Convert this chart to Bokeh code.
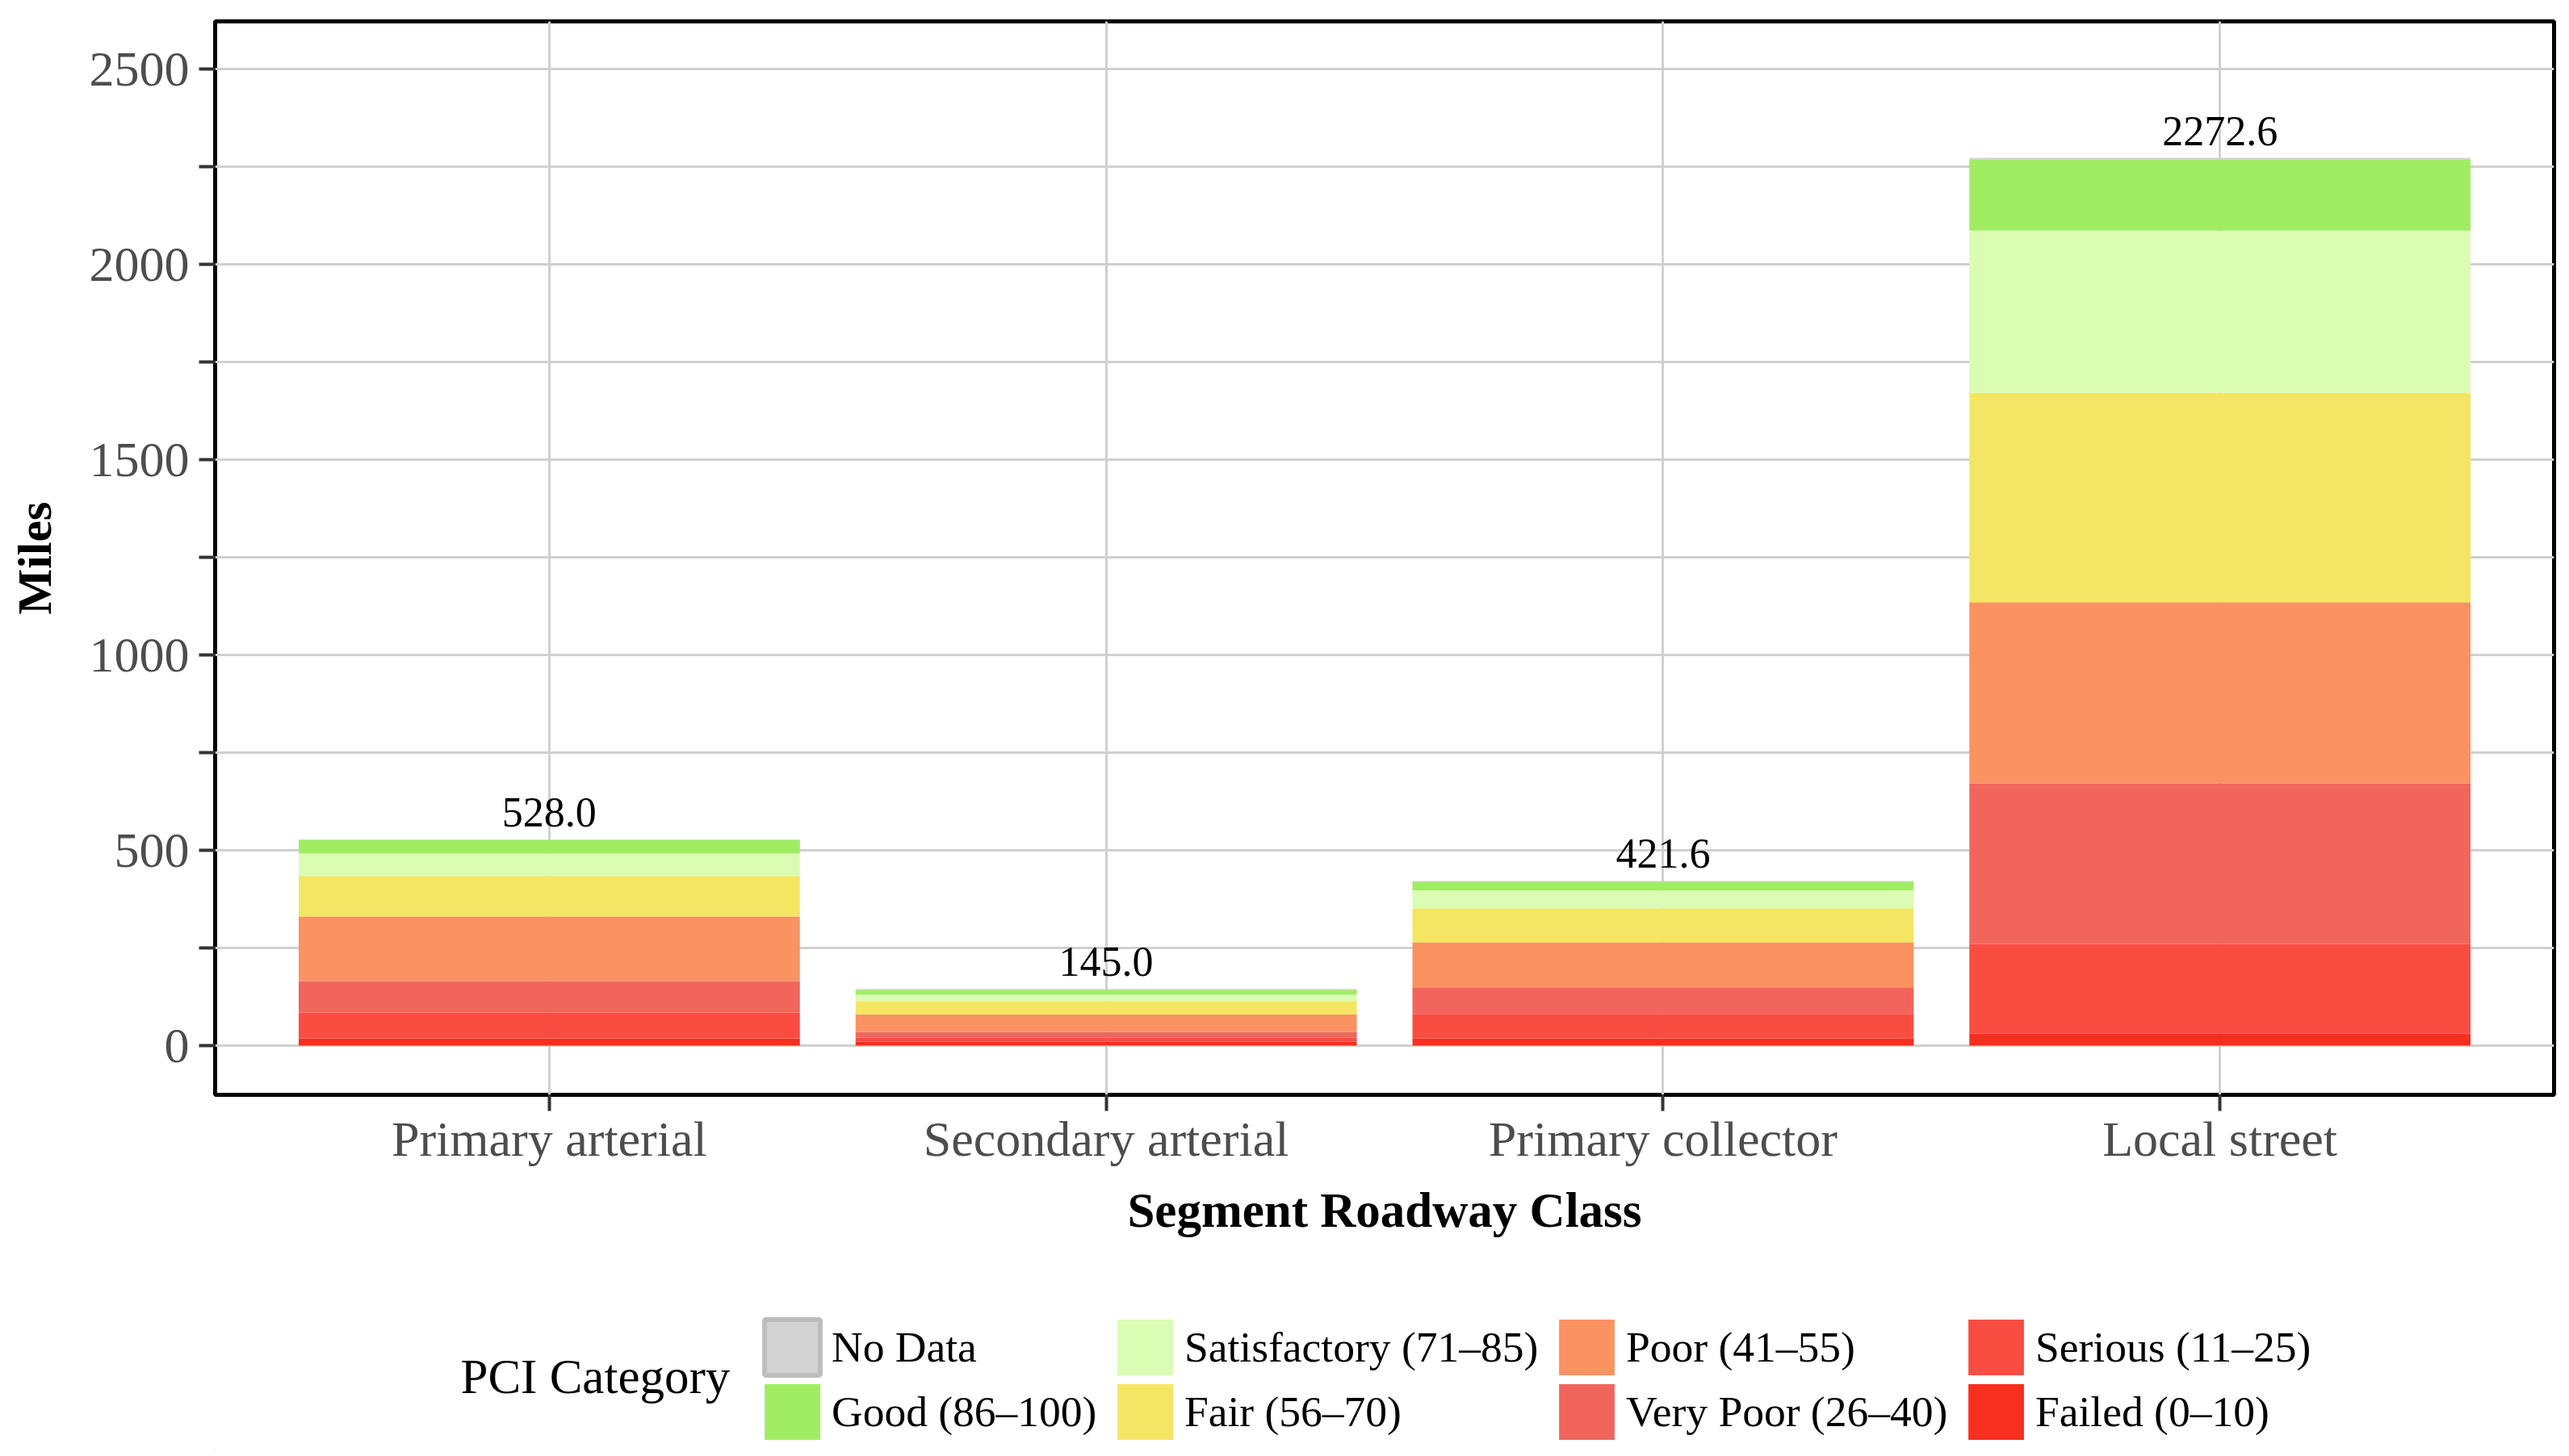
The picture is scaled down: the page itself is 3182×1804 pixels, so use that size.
from bokeh.plotting import figure
from bokeh.models import (FactorRange, Range1d, FixedTicker, Legend, LegendItem,
                          ColumnDataSource, Label)
from bokeh.layouts import column
from bokeh.core.properties import value
from bokeh.embed import file_html
from bokeh.resources import INLINE

# ---- data ----
categories = ["Primary arterial", "Secondary arterial", "Primary collector", "Local street"]
failed = [18.7, 10.0, 18.7, 31.0]
serious = [66.0, 10.0, 62.4, 228.6]
very_poor = [80.0, 15.0, 66.6, 412.0]
poor = [166.0, 45.0, 117.0, 463.5]
fair = [103.5, 34.0, 86.7, 536.0]
satisfactory = [57.5, 16.0, 45.6, 415.5]
good = [35.0, 13.0, 23.0, 181.0]
no_data = [1.3, 2.0, 1.6, 5.0]

stack_keys = ["failed", "serious", "very_poor", "poor", "fair", "satisfactory", "good", "no_data"]
stack_labels = ["Failed (0\u201310)", "Serious (11\u201325)", "Very Poor (26\u201340)", "Poor (41\u201355)",
                "Fair (56\u201370)", "Satisfactory (71\u201385)", "Good (86\u2013100)", "No Data"]
stack_colors = ["#F82E1F", "#FA4D42", "#F1655C", "#FB9262", "#F4E663", "#DAFCB3", "#A0ED63", "#D3D3D3"]
legend_title = "PCI Category"

y_major = [0, 500, 1000, 1500, 2000, 2500]
y_minor = [250, 750, 1250, 1750, 2250]

data = dict(cat=categories, failed=failed, serious=serious, very_poor=very_poor, poor=poor,
            fair=fair, satisfactory=satisfactory, good=good, no_data=no_data)
totals = [sum(v) for v in zip(failed, serious, very_poor, poor, fair, satisfactory, good, no_data)]
source = ColumnDataSource(data)

FONT = "Liberation Serif"
LEFT, RIGHT, TOP, BOTTOM = 266, 11, 26, 200
FW, FH = 2897, 1330
LEG_H = 240

p = figure(x_range=FactorRange(*categories, range_padding=0.05),
           y_range=Range1d(-126, 2622),
           frame_width=FW, frame_height=FH,
           min_border_left=LEFT, min_border_right=RIGHT, min_border_top=TOP,
           min_border_bottom=BOTTOM,
           output_backend="svg", toolbar_location=None, tools="")

renderers = p.vbar_stack(stack_keys, x="cat", width=0.9, source=source,
                         color=stack_colors, line_color=None)

lab_src = ColumnDataSource(dict(cat=categories, y=totals, txt=[f"{t:.1f}" for t in totals]))
p.text(x="cat", y="y", text="txt", source=lab_src, text_align="center",
       text_baseline="bottom", y_offset=-16, text_font=value(FONT),
       text_font_size="52px", text_color="black")

# outline / background
p.outline_line_color = "black"
p.outline_line_width = 5
p.background_fill_color = "white"
p.border_fill_color = "white"

# grids
for g in (p.xgrid, p.ygrid):
    g.grid_line_color = "#D0D0D0"
    g.grid_line_width = 3
p.ygrid.minor_grid_line_color = "#D0D0D0"
p.ygrid.minor_grid_line_width = 3

# y axis
p.yaxis.ticker = FixedTicker(ticks=y_major, minor_ticks=y_minor)
p.yaxis.axis_line_color = None
p.yaxis.major_tick_out = 20
p.yaxis.major_tick_in = 0
p.yaxis.minor_tick_out = 20
p.yaxis.minor_tick_in = 0
p.yaxis.major_tick_line_width = 4
p.yaxis.minor_tick_line_width = 4
p.yaxis.major_tick_line_color = "#333333"
p.yaxis.minor_tick_line_color = "#333333"
p.yaxis.major_label_text_font = FONT
p.yaxis.major_label_text_font_size = "62px"
p.yaxis.major_label_text_color = "#4D4D4D"
p.yaxis.major_label_standoff = 12
p.yaxis.axis_label = "Miles"
p.yaxis.axis_label_text_font = FONT
p.yaxis.axis_label_text_font_style = "bold"
p.yaxis.axis_label_text_font_size = "60px"
p.yaxis.axis_label_text_color = "black"
p.yaxis.axis_label_standoff = 32

# x axis
p.xaxis.axis_line_color = None
p.xaxis.major_tick_out = 20
p.xaxis.major_tick_in = 0
p.xaxis.major_tick_line_width = 4
p.xaxis.major_tick_line_color = "#333333"
p.xaxis.major_label_text_font = FONT
p.xaxis.major_label_text_font_size = "62px"
p.xaxis.major_label_text_color = "#4D4D4D"
p.xaxis.major_label_standoff = 0
p.xaxis.axis_label = "Segment Roadway Class"
p.xaxis.axis_label_text_font = FONT
p.xaxis.axis_label_text_font_style = "bold"
p.xaxis.axis_label_text_font_size = "61px"
p.xaxis.axis_label_text_color = "black"
p.xaxis.axis_label_standoff = 18

# ---- legend panel (separate figure below the chart, frame aligned with chart) ----
lf = figure(x_range=Range1d(LEFT, LEFT + FW), y_range=Range1d(0, LEG_H),
            frame_width=FW, frame_height=LEG_H,
            min_border_left=LEFT, min_border_right=RIGHT, min_border_top=0, min_border_bottom=0,
            x_axis_location=None, y_axis_location=None,
            output_backend="svg", toolbar_location=None, tools="")
lf.outline_line_color = None
lf.xgrid.visible = False
lf.ygrid.visible = False
lf.background_fill_color = "white"
lf.border_fill_color = "white"

# legend key renderers (one hidden point each, outside the visible range)
key_renderers = []
for i, c in enumerate(stack_colors):
    src = ColumnDataSource(dict(x=[-1e6], top=[0]))
    if stack_keys[i] == "no_data":
        r = lf.vbar(x="x", top="top", width=1, source=src, fill_color=c,
                    line_color="#BDBDBD", line_width=6)
    else:
        r = lf.vbar(x="x", top="top", width=1, source=src, fill_color=c, line_color=None)
    key_renderers.append(r)

# legend grid: 4 columns x 2 rows, column-major order as in the reference
legend_columns = [(7, 6), (5, 4), (3, 2), (1, 0)]
column_x = [947, 1384, 1931, 2438]
row_bottom = [84, 4]     # top row, bottom row (legend-panel px from its bottom)
GW, GH = 86, 86          # Bokeh draws area keys inset by 10% on each side
for pair, cx in zip(legend_columns, column_x):
    for idx, rb in zip(pair, row_bottom):
        lg = Legend(items=[LegendItem(label=stack_labels[idx], renderers=[key_renderers[idx]])],
                    orientation="vertical", location=(cx - 9 - LEFT, rb))
        lg.label_text_font = FONT
        lg.label_text_font_size = "53.5px"
        lg.label_text_color = "black"
        lg.glyph_width = GW
        lg.glyph_height = GH
        lg.label_height = GH
        lg.label_standoff = 6
        lg.spacing = 0
        lg.border_line_color = None
        lg.background_fill_color = None
        lg.padding = 0
        lg.margin = 0
        lf.add_layout(lg)

lf.add_layout(Label(x=570, y=91, text=legend_title, text_font=FONT, text_font_size="61px",
                    text_align="left", text_baseline="middle", text_color="black"))

layout = column(p, lf, spacing=0)
open("out.html", "w").write(file_html(layout, INLINE))
